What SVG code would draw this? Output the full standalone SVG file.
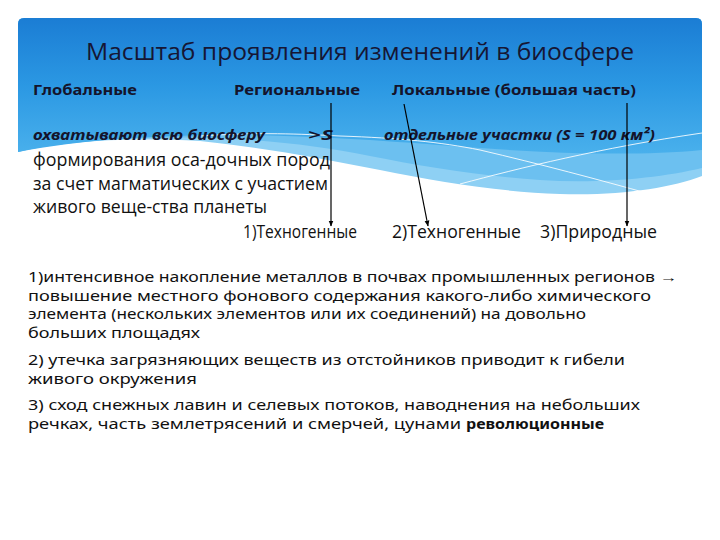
<svg xmlns="http://www.w3.org/2000/svg" width="720" height="540" viewBox="0 0 720 540">
  <defs>
    <linearGradient id="bannerGrad" x1="0" y1="0" x2="0" y2="1">
      <stop offset="0" stop-color="#1b7dd4"/>
      <stop offset="0.5" stop-color="#2b98e3"/>
      <stop offset="1" stop-color="#49b0ec"/>
    </linearGradient>
    <marker id="arrow" viewBox="0 0 10 10" refX="9" refY="5" markerWidth="6" markerHeight="6" orient="auto" markerUnits="userSpaceOnUse">
      <path d="M0,1 L10,5 L0,9 Z" fill="#000"/>
    </marker>
    <style>
      .title { font-family: "Open Sans", "Noto Sans", "Liberation Sans", sans-serif; font-size: 23px; fill: #161634; }
      .head { font-family: "Noto Sans", "Liberation Sans", sans-serif; font-size: 15px; font-weight: bold; fill: #14142c; }
      .ital { font-family: "Noto Sans", "Liberation Sans", sans-serif; font-size: 15px; font-weight: bold; font-style: italic; fill: #14142c; }
      .body { font-family: "Open Sans", "Noto Sans", "Liberation Sans", sans-serif; font-size: 18px; fill: #111; }
      .small { font-family: "Noto Sans", "Liberation Sans", sans-serif; font-size: 13.5px; fill: #111; }
      .smallb { font-family: "Noto Sans", "Liberation Sans", sans-serif; font-size: 13.5px; font-weight: bold; fill: #111; }
      .conn { stroke: #000; stroke-width: 1.2; fill: none; marker-end: url(#arrow); }
      .wline { stroke: #ffffff; stroke-width: 1; fill: none; opacity: 0.85; }
    </style>
  </defs>

  <rect width="720" height="540" fill="#ffffff"/>

  <g id="banner">
    <path d="M18,24 Q18,18 24,18 H696 Q702,18 702,24 V176 C670,188 620,196 560,194 C500,192 440,182 380,170 C320,158 260,147 200,141 C120,137 60,142 18,152 Z" fill="#8ed0f4"/>
    <path d="M18,24 Q18,18 24,18 H696 Q702,18 702,24 V168 C660,178 600,184 540,180 C480,176 420,166 370,156 C320,146 270,140 210,138 C130,136 60,142 18,152 Z" fill="#6cc0f0"/>
    <path d="M18,24 Q18,18 24,18 H696 Q702,18 702,24 V150 C640,156 560,154 480,148 C400,142 330,136 240,135 C150,135 80,140 18,152 Z" fill="url(#bannerGrad)"/>
    <path class="wline" d="M200,136 C260,132 300,134 340,136 C400,138 440,142 480,150 C540,164 600,180 650,194"/>
    <path class="wline" d="M460,184 C520,168 600,148 702,133"/>
  </g>

  <g id="title">
    <text class="title" x="86" y="60" textLength="548" lengthAdjust="spacingAndGlyphs">Масштаб проявления изменений в биосфере</text>
  </g>

  <g id="global">
    <text class="head" x="33" y="95" textLength="104" lengthAdjust="spacingAndGlyphs">Глобальные</text>
    <text class="ital" x="33" y="140" textLength="232" lengthAdjust="spacingAndGlyphs">охватывают всю биосферу</text>
    <text class="body" x="33" y="166" textLength="297" lengthAdjust="spacingAndGlyphs">формирования оса-дочных пород</text>
    <text class="body" x="33" y="190" textLength="295" lengthAdjust="spacingAndGlyphs">за счет магматических с участием</text>
    <text class="body" x="33" y="213" textLength="234" lengthAdjust="spacingAndGlyphs">живого веще-ства планеты</text>
  </g>

  <g id="regional">
    <text class="head" x="234" y="95" textLength="126" lengthAdjust="spacingAndGlyphs">Региональные</text>
    <text class="ital" x="308" y="140" textLength="25" lengthAdjust="spacingAndGlyphs">&gt;S</text>
  </g>

  <g id="local">
    <text class="head" x="392" y="95" textLength="244" lengthAdjust="spacingAndGlyphs">Локальные (большая часть)</text>
    <text class="ital" x="384" y="140" textLength="271" lengthAdjust="spacingAndGlyphs">отдельные участки (S = 100 км²)</text>
  </g>

  <g id="techno1">
    <text class="body" x="243" y="238" textLength="114" lengthAdjust="spacingAndGlyphs">1)Техногенные</text>
  </g>
  <g id="techno2">
    <text class="body" x="392" y="238" textLength="129" lengthAdjust="spacingAndGlyphs">2)Техногенные</text>
  </g>
  <g id="natural">
    <text class="body" x="540" y="238" textLength="117" lengthAdjust="spacingAndGlyphs">3)Природные</text>
  </g>

  <g id="connectors">
    <line class="conn" x1="331" y1="103" x2="331" y2="226"/>
    <line class="conn" x1="404" y1="104" x2="428" y2="226"/>
    <line class="conn" x1="627" y1="103" x2="627" y2="226"/>
  </g>

  <g id="description">
    <text class="small" x="28" y="282" textLength="649" lengthAdjust="spacingAndGlyphs">1)интенсивное накопление металлов в почвах промышленных регионов →</text>
    <text class="small" x="28" y="300.5" textLength="623" lengthAdjust="spacingAndGlyphs">повышение местного фонового содержания какого-либо химического</text>
    <text class="small" x="28" y="319" textLength="558" lengthAdjust="spacingAndGlyphs">элемента (нескольких элементов или их соединений) на довольно</text>
    <text class="small" x="28" y="337.5" textLength="172" lengthAdjust="spacingAndGlyphs">больших площадях</text>
    <text class="small" x="28" y="365" textLength="597" lengthAdjust="spacingAndGlyphs">2) утечка загрязняющих веществ из отстойников приводит к гибели</text>
    <text class="small" x="28" y="384" textLength="169" lengthAdjust="spacingAndGlyphs">живого окружения</text>
    <text class="small" x="28" y="410" textLength="612" lengthAdjust="spacingAndGlyphs">3) сход снежных лавин и селевых потоков, наводнения на небольших</text>
    <text class="small" x="28" y="429" textLength="433" lengthAdjust="spacingAndGlyphs">речках, часть землетрясений и смерчей, цунами</text>
    <text class="smallb" x="466" y="429" textLength="138" lengthAdjust="spacingAndGlyphs">революционные</text>
  </g>
</svg>
